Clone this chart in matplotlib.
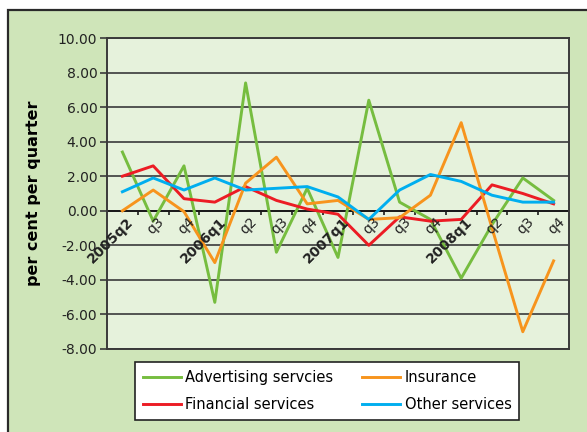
import numpy as np
import matplotlib
matplotlib.use("Agg")
import matplotlib.pyplot as plt
from matplotlib.patches import Rectangle

# quarters as labelled on the chart (the second "q3" in 2007 is as printed)
quarters = ["2005q2", "q3", "q4", "2006q1", "q2", "q3", "q4", "2007q1",
            "q3", "q3", "q4", "2008q1", "q2", "q3", "q4"]
bold_labels = ["2005q2", "2006q1", "2007q1", "2008q1"]

advertising = [3.4, -0.6, 2.6, -5.3, 7.4, -2.4, 1.3, -2.7, 6.4, 0.5, -0.5, -3.9, -0.8, 1.9, 0.6]
insurance = [0.0, 1.2, -0.05, -3.0, 1.6, 3.1, 0.4, 0.6, -0.5, -0.4, 0.9, 5.1, -1.0, -7.0, -2.9]
financial = [2.0, 2.6, 0.7, 0.5, 1.4, 0.6, 0.1, -0.2, -2.0, -0.35, -0.6, -0.5, 1.5, 1.0, 0.4]
other = [1.1, 1.9, 1.2, 1.9, 1.2, 1.3, 1.4, 0.8, -0.5, 1.2, 2.1, 1.7, 0.9, 0.5, 0.5]

bg_green = "#cfe5b9"
plot_green = "#e6f2dc"
grid_col = "#3a3a3a"

fig = plt.figure(figsize=(5.87, 4.32), dpi=100, facecolor="white")
# outer panel with dark frame on top and left
fig.patches.append(Rectangle((8 / 587, -0.1), 1.1, 422 / 432 + 0.1, transform=fig.transFigure,
                             facecolor=bg_green, edgecolor="#2a2a2a", linewidth=1.6, zorder=-10))

ax = fig.add_axes([107 / 587, 83 / 432, 462 / 587, 311 / 432])
ax.set_facecolor(plot_green)

x = np.arange(len(quarters))
lw = 2.1
ax.plot(x, advertising, color="#76bd3f", lw=lw, label="Advertising servcies", zorder=3)
ax.plot(x, financial, color="#ec1c24", lw=lw, label="Financial services", zorder=3)
ax.plot(x, insurance, color="#f7941d", lw=lw, label="Insurance", zorder=3)
ax.plot(x, other, color="#00aeef", lw=lw, label="Other services", zorder=3)

ax.set_xlim(-0.5, len(quarters) - 0.5)
ax.set_ylim(-8, 10)
ax.set_yticks(np.arange(-8, 11, 2))
ax.set_yticklabels([f"{v:.2f}" for v in np.arange(-8, 11, 2)], fontsize=10, color="#222222")
ax.tick_params(axis="y", length=5, width=1.2, color=grid_col, pad=2)
ax.set_xticks([])
ax.grid(axis="y", color=grid_col, lw=1.2)
ax.set_axisbelow(True)
for s in ax.spines.values():
    s.set_color(grid_col)
    s.set_linewidth(1.4)

# category axis drawn at zero
ax.axhline(0, color="#1a1a1a", lw=1.4, zorder=2)
ax.vlines(x[:-1] + 0.5, -0.25, 0, color="#1a1a1a", lw=1.2, zorder=2)
for i, q in enumerate(quarters):
    ax.annotate(q, xy=(i + 0.13, 0), xytext=(0, -3), textcoords="offset points",
                rotation=45, rotation_mode="anchor", ha="right", va="top", fontsize=10,
                fontweight="bold" if q in bold_labels else "normal", color="#222222", zorder=4)

ax.set_ylabel("per cent per quarter", fontsize=11.5, fontweight="bold", labelpad=12)

leg = fig.legend(loc="center", bbox_to_anchor=(327 / 587, 41 / 432), ncol=2, fontsize=10.5,
                 frameon=True, fancybox=False, edgecolor="#222222", facecolor="white",
                 framealpha=1, handlelength=2.6, handletextpad=0.3, columnspacing=2.0,
                 labelspacing=0.8, borderpad=0.55)
leg.get_frame().set_linewidth(1.2)

fig.savefig("out.png", dpi=100, facecolor=fig.get_facecolor())
